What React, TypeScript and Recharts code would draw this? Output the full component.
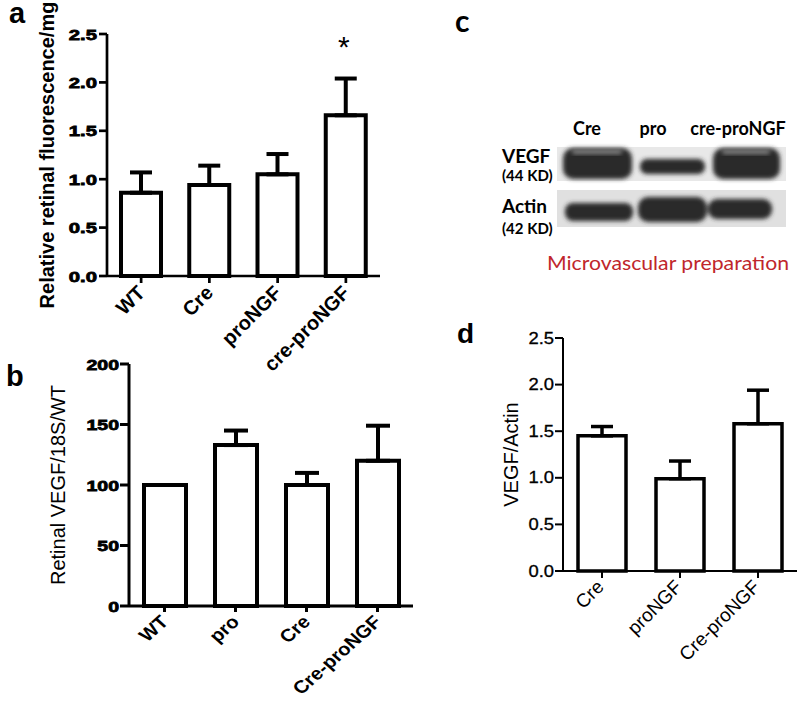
import React from 'react'
import { BarChart, Bar, XAxis, YAxis, ErrorBar, LabelList } from 'recharts'

// panel a
const groupsA = ['WT', 'Cre', 'proNGF', 'cre-proNGF']
const meanA = [0.86, 0.94, 1.05, 1.66]
const semA = [0.21, 0.2, 0.21, 0.38]
const sigA = ['', '', '', '*']
const ticksA = [0, 0.5, 1, 1.5, 2, 2.5]

// panel b
const groupsB = ['WT', 'pro', 'Cre', 'Cre-proNGF']
const meanB = [100, 133, 100, 120]
const semB = [0, 12, 10, 29]
const ticksB = [0, 50, 100, 150, 200]

// panel d
const groupsD = ['Cre', 'proNGF', 'Cre-proNGF']
const meanD = [1.45, 0.99, 1.58]
const semD = [0.1, 0.19, 0.36]
const ticksD = [0, 0.5, 1, 1.5, 2, 2.5]

// panel c (blot)
const lanes = ['Cre', 'pro', 'cre-proNGF']

const dataA = groupsA.map((name, i) => ({ name, mean: meanA[i], err: [0, semA[i]], sig: sigA[i] }))
const dataB = groupsB.map((name, i) => ({ name, mean: meanB[i], err: [0, semB[i]] }))
const dataD = groupsD.map((name, i) => ({ name, mean: meanD[i], err: [0, semD[i]] }))

const FONT = '"Liberation Sans", Arial, sans-serif'
const CAL = 'Lato, "Open Sans", sans-serif'

// rough Arial advance widths, used to stretch tick labels like the original (wide) figure
const charW = (c: string) => (c === '.' ? 0.278 : 0.556)
const textW = (s: string, fs: number) => s.split('').reduce((a, c) => a + charW(c), 0) * fs

const yTick = (fs: number, sx: number, weight: number, sw: number, fmt: (v: number) => string) => (props: any) => {
  const { x, y, payload } = props
  const s = fmt(payload.value)
  return (
    <text
      x={x}
      y={y}
      textAnchor="end"
      dominantBaseline="central"
      textLength={textW(s, fs) * sx}
      lengthAdjust="spacingAndGlyphs"
      fill="#000"
      stroke="#000"
      strokeWidth={sw}
      style={{ fontSize: fs, fontWeight: weight, fontFamily: FONT }}
    >
      {s}
    </text>
  )
}

const xTick = (fs: number, weight: number, sx: number, dx: number, dy: number) => (props: any) => {
  const { x, y, payload } = props
  return (
    <text
      transform={`translate(${x + dx},${y + dy}) scale(${sx},1) rotate(-45)`}
      textAnchor="end"
      fill="#000"
      style={{ fontSize: fs, fontWeight: weight, fontFamily: FONT }}
    >
      {payload.value}
    </text>
  )
}

const yLabel = (text: string, cx: number, fs: number, weight: number) => (props: any) => {
  const vb = props.viewBox || { x: 0, y: 0, height: 0 }
  const x = vb.x + cx
  const y = vb.y + vb.height / 2
  return (
    <text
      transform={`translate(${x},${y}) rotate(-90)`}
      textAnchor="middle"
      dy="0.36em"
      fill="#000"
      style={{ fontSize: fs, fontWeight: weight, fontFamily: FONT }}
    >
      {text}
    </text>
  )
}

const starLabel = (props: any) => {
  const { x, y, width, height, index, value } = props
  if (!value) return null
  const pxPerUnit = Number(height) / meanA[index]
  const top = Number(y) - semA[index] * pxPerUnit
  return (
    <text x={Number(x) + Number(width) / 2 - 2} y={top - 22} textAnchor="middle" fill="#000" style={{ fontSize: 30, fontFamily: FONT }}>
      {value}
    </text>
  )
}

const fmt1 = (v: number) => v.toFixed(1)
const fmt0 = (v: number) => String(v)

function PanelA() {
  const ax = { stroke: '#000', strokeWidth: 2.7 }
  return (
    <BarChart width={400} height={380} data={dataA} margin={{ top: 34, right: 20, bottom: 0, left: 0 }}>
      <XAxis dataKey="name" interval={0} height={104} tickSize={7} axisLine={ax} tickLine={ax} tick={xTick(20, 700, 1, 5, 9)} />
      <YAxis
        domain={[0, 2.5]}
        ticks={ticksA}
        interval={0}
        width={107}
        tickSize={8}
        tickMargin={2}
        axisLine={ax}
        tickLine={ax}
        tick={yTick(15, 1.35, 700, 0.8, fmt1)}
        label={{ content: yLabel('Relative retinal fluorescence/mg', 47, 20, 700) }}
      />
      <Bar dataKey="mean" fill="#fff" stroke="#000" strokeWidth={4} barSize={40} isAnimationActive={false}>
        <ErrorBar dataKey="err" direction="y" width={11} stroke="#000" strokeWidth={4} />
        <LabelList dataKey="sig" content={starLabel} />
      </Bar>
    </BarChart>
  )
}

function PanelB() {
  const ax = { stroke: '#000', strokeWidth: 3 }
  return (
    <BarChart width={430} height={361} data={dataB} margin={{ top: 24, right: 17, bottom: 0, left: 0 }}>
      <XAxis dataKey="name" interval={0} height={95} tickSize={6} axisLine={ax} tickLine={ax} tick={xTick(18, 700, 1.12, 5, 9)} />
      <YAxis
        domain={[0, 200]}
        ticks={ticksB}
        interval={0}
        width={129}
        tickSize={9}
        tickMargin={1}
        axisLine={ax}
        tickLine={ax}
        tick={yTick(15, 1.3, 700, 0.8, fmt0)}
        label={{ content: yLabel('Retinal VEGF/18S/WT', 58, 20, 400) }}
      />
      <Bar dataKey="mean" fill="#fff" stroke="#000" strokeWidth={4} barSize={42} isAnimationActive={false}>
        <ErrorBar dataKey="err" direction="y" width={12} stroke="#000" strokeWidth={4} />
      </Bar>
    </BarChart>
  )
}

function PanelD() {
  const ax = { stroke: '#000', strokeWidth: 2 }
  return (
    <BarChart width={380} height={411} data={dataD} margin={{ top: 48, right: 3, bottom: 0, left: 0 }}>
      <XAxis dataKey="name" interval={0} height={130} tickSize={7} axisLine={ax} tickLine={ax} tick={xTick(19, 400, 1, 3, 8)} />
      <YAxis
        domain={[0, 2.5]}
        ticks={ticksD}
        interval={0}
        width={143}
        tickSize={8}
        tickMargin={1}
        axisLine={ax}
        tickLine={ax}
        tick={yTick(16, 1.15, 400, 0.3, fmt1)}
        label={{ content: yLabel('VEGF/Actin', 91, 20, 400) }}
      />
      <Bar dataKey="mean" fill="#fff" stroke="#000" strokeWidth={3.5} barSize={48} isAnimationActive={false}>
        <ErrorBar dataKey="err" direction="y" width={11} stroke="#000" strokeWidth={3.5} />
      </Bar>
    </BarChart>
  )
}

function Blot() {
  const laneX = [167, 233, 318]
  return (
    <svg width={380} height={290} style={{ position: 'absolute', left: 420, top: 0 }}>
      <defs>
        <filter id="soft" x="-20%" y="-50%" width="140%" height="200%">
          <feGaussianBlur stdDeviation="2" />
        </filter>
      </defs>
      <text x={35} y={32} fill="#000" style={{ fontSize: 30, fontWeight: 700, fontFamily: CAL }}>c</text>
      {lanes.map((l, i) => (
        <text key={l} x={laneX[i]} y={135} textAnchor="middle" fill="#000" style={{ fontSize: 18, fontWeight: 700, fontFamily: CAL }}>
          {l}
        </text>
      ))}
      <text x={82} y={163} fill="#000" style={{ fontSize: 19, fontWeight: 700, fontFamily: CAL }}>VEGF</text>
      <text x={82} y={181} fill="#000" style={{ fontSize: 15, fontWeight: 700, fontFamily: CAL }}>(44 KD)</text>
      <text x={82} y={213} fill="#000" style={{ fontSize: 19, fontWeight: 700, fontFamily: CAL }}>Actin</text>
      <text x={82} y={234} fill="#000" style={{ fontSize: 15, fontWeight: 700, fontFamily: CAL }}>(42 KD)</text>

      <rect x={137} y={147} width={229} height={34} fill="#e8e8e8" />
      <rect x={137} y={190} width={229} height={37} fill="#e0e0e0" />
      <g filter="url(#soft)" fill="#2a2a2a">
        <rect x={143} y={148} width={69} height={31} rx={10} />
        <rect x={220} y={159} width={65} height={15} rx={7} />
        <rect x={293} y={148} width={67} height={31} rx={10} />
        <rect x={145} y={203} width={68} height={18} rx={8} />
        <rect x={218} y={197} width={69} height={25} rx={10} />
        <rect x={288} y={199} width={64} height={20} rx={9} />
      </g>
      <g filter="url(#soft)" fill="#8a8a8a">
        <rect x={152} y={150} width={50} height={4} rx={2} />
        <rect x={302} y={150} width={48} height={4} rx={2} />
      </g>
      <text x={248} y={270} textAnchor="middle" textLength={242} lengthAdjust="spacingAndGlyphs" fill="#c0262c" style={{ fontSize: 20, fontFamily: CAL }}>
        Microvascular preparation
      </text>
    </svg>
  )
}

export default function App() {
  return (
    <div style={{ position: 'absolute', left: 0, top: 0, width: 800, height: 701, background: '#fff', overflow: 'hidden' }}>
      <div style={{ position: 'absolute', left: 0, top: 0 }}>
        <PanelA />
      </div>
      <div style={{ position: 'absolute', left: 0, top: 340 }}>
        <PanelB />
      </div>
      <div style={{ position: 'absolute', left: 420, top: 290 }}>
        <PanelD />
      </div>
      <Blot />
      <svg width={800} height={701} style={{ position: 'absolute', left: 0, top: 0, pointerEvents: 'none' }}>
        <text x={9} y={23} fill="#000" style={{ fontSize: 29, fontWeight: 700, fontFamily: FONT }}>a</text>
        <text x={6} y={386} fill="#000" style={{ fontSize: 29, fontWeight: 700, fontFamily: FONT }}>b</text>
        <text x={457} y={343} fill="#000" style={{ fontSize: 28, fontWeight: 700, fontFamily: FONT }}>d</text>
      </svg>
    </div>
  )
}
